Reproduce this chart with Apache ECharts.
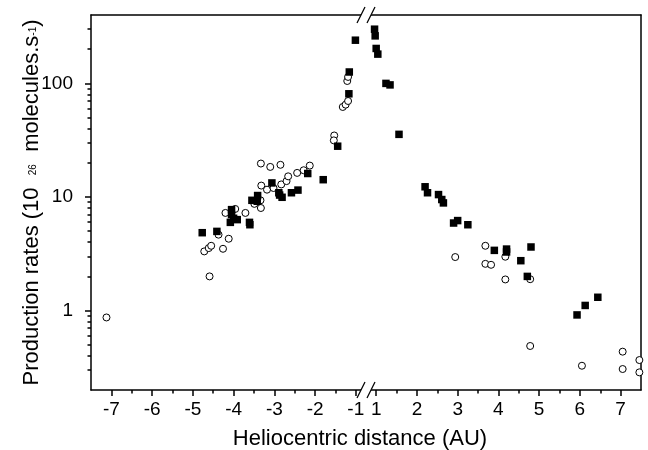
<!DOCTYPE html>
<html><head><meta charset="utf-8">
<script src="https://cdn.jsdelivr.net/npm/echarts@6/dist/echarts.min.js"></script>
<style>html,body{margin:0;padding:0;background:#fff}#c{width:648px;height:450px}</style>
</head><body><div id="c"></div>
<script>
// Filled squares
const filledX = [-4.77,-4.41,-4.05,-4.05,-4.08,-3.91,-4.0,-3.61,-3.60,-3.55,-3.41,-3.42,-3.06,-2.89,-2.87,-2.81,-2.58,-2.42,-2.18,-1.80,-1.445,-1.17,-1.16,-1.01,
  0.96,0.975,1.0,1.04,1.24,1.34,1.56,2.20,2.26,2.53,2.61,2.65,2.90,3.0,3.25,3.90,4.20,4.20,4.55,4.80,4.71,5.93,6.13,6.44];
const filledY = [4.85,4.98,7.74,7.0,5.98,6.32,6.5,5.98,5.7,9.35,10.3,9.17,13.3,10.9,10.4,9.94,10.9,11.5,16.1,14.2,28.0,81,126,240,
  300,262,203,181,100,97,35.6,12.3,10.9,10.5,9.5,8.87,5.9,6.2,5.7,3.39,3.48,3.28,2.75,3.63,2.0,0.916,1.11,1.31];
// Open circles
const openX = [-7.12,-4.72,-4.61,-4.55,-4.59,-4.37,-4.26,-4.12,-4.20,-3.96,-3.71,-3.49,-3.34,-3.33,-3.32,-3.18,-3.02,-2.83,-2.70,-2.66,-2.44,-2.28,-2.13,-3.33,-3.10,-2.85,-1.53,-1.54,-1.32,-1.25,-1.19,-1.21,-1.19,
  2.94,3.68,3.68,3.82,4.17,4.17,4.78,4.78,6.05,7.05,7.05,7.46,7.46];
const openY = [0.87,3.32,3.55,3.72,2.0,4.66,3.50,4.29,7.24,7.85,7.24,8.7,9.35,8.0,12.6,11.6,12.0,12.9,13.8,15.2,16.3,17.2,18.9,19.7,18.4,19.2,34.8,31.5,62,65,70,105,114,
  2.96,3.72,2.58,2.53,2.98,1.88,1.89,0.488,0.327,0.435,0.306,0.367,0.286];
// Tick values
const xMajorTicks = [-7,-6,-5,-4,-3,-2,-1,1,2,3,4,5,6,7];
const xMinorTicks = [-6.5,-5.5,-4.5,-3.5,-2.5,-1.5,1.5,2.5,3.5,4.5,5.5,6.5];
const yMajorTicks = [1,10,100];
const yMinorTicks = [0.3,0.4,0.5,0.6,0.7,0.8,0.9,2,3,4,5,6,7,8,9,20,30,40,50,60,70,80,90,200,300];
const xTitle = 'Heliocentric distance (AU)';

// axis break: positive side shifted left so that -1 .. 1 spans half a unit
const SHIFT = 1.5;
const tx = x => x > 0 ? x - SHIFT : x;
const untx = v => v > -0.75 ? v + SHIFT : v;

const FONT = 'Liberation Sans, Arial, sans-serif';
const chart = echarts.init(document.getElementById('c'));
const black = '#000';
const lineW = 1.5;

const option = {
  animation: false,
  backgroundColor: '#fff',
  grid: {left: 91, right: 7, top: 15, bottom: 60, containLabel: false, outerBoundsMode: 'none'},
  xAxis: [
    {type: 'value', min: -7.5, max: 6, position: 'bottom',
     axisLine: {show: true, onZero: false, lineStyle: {color: black, width: lineW}},
     axisTick: {show: true, customValues: xMajorTicks.map(tx), length: 6, lineStyle: {color: black, width: lineW}},
     axisLabel: {show: true, customValues: xMajorTicks.map(tx), formatter: v => String(Math.round(untx(v))), color: black, fontSize: 19, fontFamily: FONT, margin: 10},
     splitLine: {show: false},
     name: xTitle, nameLocation: 'middle', nameGap: 38,
     nameTextStyle: {fontSize: 22, color: black, fontFamily: FONT, padding: [0, 12, 0, 0]}},
    {type: 'value', min: -7.5, max: 6, position: 'bottom',
     axisLine: {show: false, onZero: false},
     axisTick: {show: true, customValues: xMinorTicks.map(tx), length: 3.5, lineStyle: {color: black, width: lineW}},
     axisLabel: {show: false}, splitLine: {show: false}},
    {type: 'value', min: -7.5, max: 6, position: 'top',
     axisLine: {show: true, onZero: false, lineStyle: {color: black, width: lineW}},
     axisTick: {show: false}, axisLabel: {show: false}, splitLine: {show: false}}
  ],
  yAxis: [
    {type: 'log', logBase: 10, min: 0.2, max: 400, position: 'left',
     axisLine: {show: true, onZero: false, lineStyle: {color: black, width: lineW}},
     axisTick: {show: true, customValues: yMajorTicks, length: 6, lineStyle: {color: black, width: lineW}},
     axisLabel: {show: true, customValues: yMajorTicks, formatter: v => String(Math.round(v)), color: black, fontSize: 19, fontFamily: FONT, margin: 18},
     splitLine: {show: false}, minorTick: {show: false},
     name: '{a|Production rates (10  }{s|26}{a|  molecules.s}{s|-1}{a|)}',
     nameLocation: 'middle', nameRotate: 90, nameGap: 48, nameMoveOverlap: false,
     nameTextStyle: {color: black, fontFamily: FONT,
       rich: {a: {fontSize: 22, fontFamily: FONT, color: black, lineHeight: 26, verticalAlign: 'bottom'},
              s: {fontSize: 10, fontFamily: FONT, color: black, lineHeight: 10, verticalAlign: 'bottom', padding: [0, 0, 5, 0]}}}},
    {type: 'log', logBase: 10, min: 0.2, max: 400, position: 'left',
     axisLine: {show: false, onZero: false},
     axisTick: {show: true, customValues: yMinorTicks, length: 3.5, lineStyle: {color: black, width: lineW}},
     axisLabel: {show: false}, splitLine: {show: false}},
    {type: 'log', logBase: 10, min: 0.2, max: 400, position: 'right',
     axisLine: {show: true, onZero: false, lineStyle: {color: black, width: lineW}},
     axisTick: {show: false}, axisLabel: {show: false}, splitLine: {show: false}}
  ],
  series: [
    {type: 'scatter', name: 'Open', xAxisIndex: 0, yAxisIndex: 0, symbol: 'circle', symbolSize: 7,
     itemStyle: {color: '#fff', borderColor: black, borderWidth: 1, opacity: 1},
     data: openX.map((x, i) => [tx(x), openY[i]]), z: 2},
    {type: 'scatter', name: 'Filled', xAxisIndex: 0, yAxisIndex: 0, symbol: 'rect', symbolSize: 7.5,
     itemStyle: {color: black, opacity: 1},
     data: filledX.map((x, i) => [tx(x), filledY[i]]), z: 3}
  ]
};
chart.setOption(option);

// break marks "//" on bottom and top axis lines
const cx = chart.convertToPixel({xAxisIndex: 0}, -0.75);
const yTop = chart.convertToPixel({yAxisIndex: 0}, 400);
const yBot = chart.convertToPixel({yAxisIndex: 0}, 0.2);
const g = [];
[yTop, yBot].forEach(y => {
  g.push({type: 'polygon', z: 100, shape: {points: [[cx - 9, y + 8], [cx - 1, y - 8], [cx + 9, y - 8], [cx + 1, y + 8]]}, style: {fill: '#fff'}});
  g.push({type: 'line', z: 101, shape: {x1: cx - 9, y1: y + 8, x2: cx - 1, y2: y - 8}, style: {stroke: black, lineWidth: 1.3}});
  g.push({type: 'line', z: 101, shape: {x1: cx + 1, y1: y + 8, x2: cx + 9, y2: y - 8}, style: {stroke: black, lineWidth: 1.3}});
});
chart.setOption({graphic: g});
</script>
</body></html>
